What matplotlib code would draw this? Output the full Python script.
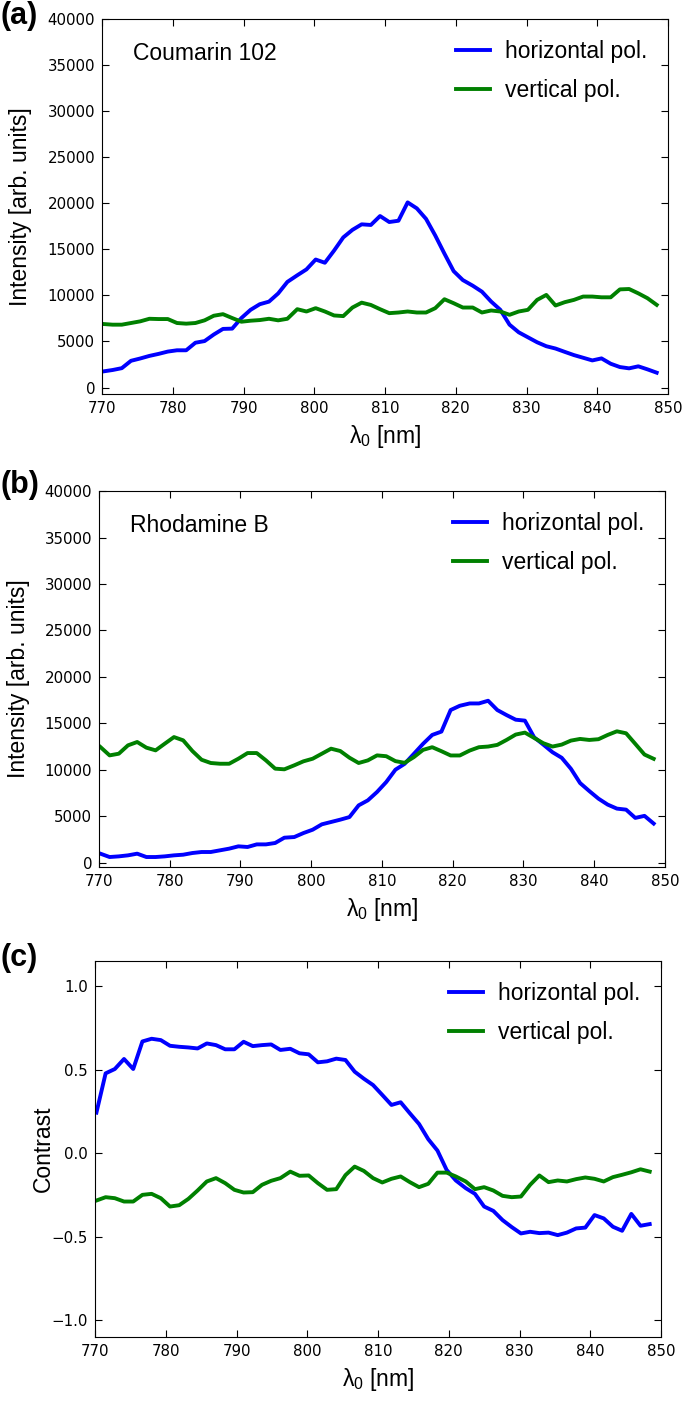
import matplotlib
matplotlib.use("Agg")
import matplotlib.pyplot as plt

# wavelength grid of the spectrometer (nm)
wavelength = [770.2, 771.5, 772.8, 774.1, 775.4, 776.7, 778.0, 779.3, 780.6, 781.9,
              783.2, 784.5, 785.8, 787.1, 788.4, 789.7, 791.0, 792.3, 793.6, 794.9,
              796.2, 797.6, 798.9, 800.2, 801.5, 802.8, 804.1, 805.4, 806.7, 808.0,
              809.3, 810.6, 811.9, 813.2, 814.5, 815.8, 817.1, 818.4, 819.7, 821.0,
              822.4, 823.7, 825.0, 826.3, 827.6, 828.9, 830.2, 831.5, 832.8, 834.1,
              835.4, 836.7, 838.0, 839.3, 840.6, 841.9, 843.2, 844.5, 845.8, 847.1,
              848.4]

# (a) Coumarin 102
coumarin_h = [1750, 1900, 2100, 2900, 3150, 3430, 3650, 3900, 4040, 4040,
              4860, 5040, 5750, 6360, 6390, 7540, 8430, 9040, 9320, 10210,
              11460, 12180, 12820, 13890, 13540, 14860, 16290, 17110, 17710, 17640,
              18610, 17960, 18100, 20090, 19440, 18300, 16500, 14530, 12630, 11660,
              11050, 10400, 9330, 8430, 6820, 5990, 5450, 4910, 4480, 4230,
              3870, 3520, 3230, 2940, 3160, 2580, 2220, 2080, 2300, 1970,
              1610]
coumarin_v = [6890, 6820, 6820, 7000, 7180, 7460, 7430, 7430, 7000, 6930,
              7000, 7290, 7790, 7960, 7540, 7140, 7250, 7320, 7460, 7290,
              7460, 8500, 8250, 8610, 8250, 7820, 7750, 8680, 9210, 8960,
              8500, 8070, 8140, 8250, 8140, 8140, 8610, 9580, 9150, 8680,
              8680, 8140, 8360, 8250, 7890, 8250, 8430, 9510, 10050, 8900,
              9260, 9510, 9870, 9870, 9790, 9790, 10650, 10690, 10220, 9690,
              8970]

# (b) Rhodamine B
rhodamine_h = [970, 610, 680, 790, 970, 610, 610, 680, 790, 860,
               1040, 1150, 1150, 1330, 1510, 1760, 1690, 1970, 1970, 2120,
               2690, 2760, 3190, 3550, 4130, 4380, 4630, 4910, 6170, 6710,
               7610, 8680, 10010, 10640, 11710, 12790, 13750, 14110, 16430, 16890,
               17140, 17140, 17430, 16430, 15890, 15390, 15290, 13500, 12710, 11890,
               11290, 10110, 8570, 7710, 6890, 6250, 5820, 5710, 4820, 5040,
               4210]
rhodamine_v = [12450, 11550, 11730, 12630, 12990, 12380, 12090, 12810, 13520, 13170,
               12020, 11080, 10730, 10650, 10650, 11190, 11800, 11800, 11010, 10120,
               10050, 10480, 10910, 11190, 11730, 12270, 12020, 11300, 10730, 11010,
               11550, 11460, 10930, 10750, 11360, 12140, 12430, 12000, 11540, 11540,
               12070, 12430, 12500, 12680, 13210, 13790, 14000, 13430, 12860, 12500,
               12710, 13140, 13320, 13210, 13290, 13750, 14140, 13930, 12790, 11640,
               11180]

# (c) contrast
contrast_h = [0.243, 0.478, 0.504, 0.564, 0.504, 0.669, 0.685, 0.677, 0.643, 0.637,
              0.633, 0.627, 0.657, 0.647, 0.622, 0.622, 0.667, 0.641, 0.647, 0.651,
              0.618, 0.625, 0.598, 0.592, 0.544, 0.550, 0.566, 0.558, 0.488, 0.446,
              0.408, 0.349, 0.289, 0.305, 0.239, 0.175, 0.084, 0.016, -0.100, -0.163,
              -0.209, -0.243, -0.319, -0.345, -0.400, -0.442, -0.480, -0.470, -0.478, -0.475,
              -0.490, -0.475, -0.450, -0.445, -0.370, -0.390, -0.440, -0.464, -0.363, -0.434,
              -0.424]
contrast_v = [-0.283, -0.263, -0.269, -0.289, -0.289, -0.249, -0.243, -0.269, -0.319, -0.311,
              -0.273, -0.223, -0.169, -0.149, -0.179, -0.219, -0.235, -0.233, -0.189, -0.165,
              -0.149, -0.110, -0.135, -0.133, -0.179, -0.219, -0.215, -0.131, -0.080, -0.106,
              -0.149, -0.175, -0.153, -0.139, -0.173, -0.203, -0.183, -0.116, -0.116, -0.139,
              -0.169, -0.215, -0.203, -0.223, -0.255, -0.263, -0.259, -0.189, -0.133, -0.173,
              -0.163, -0.169, -0.155, -0.145, -0.153, -0.169, -0.143, -0.129, -0.114, -0.096,
              -0.110]

label_font = "Liberation Sans"
plt.rcParams["mathtext.fontset"] = "custom"
plt.rcParams["mathtext.rm"] = label_font
plt.rcParams["mathtext.it"] = label_font + ":italic"

fig = plt.figure(figsize=(6.85, 14.03), dpi=100)


def panel(rect, yh, yv, ylim, yticks, ylabel, ylabel_x, tag, tag_y, note=None):
    ax = fig.add_axes(rect)
    ax.plot(wavelength, yh, color="b", lw=2.8, label="horizontal pol.")
    ax.plot(wavelength, yv, color="g", lw=2.8, label="vertical pol.")
    ax.set_xlim(770, 850)
    ax.set_ylim(*ylim)
    ax.set_yticks(yticks)
    ax.tick_params(direction="in", top=True, right=True, length=5, width=0.8,
                   labelsize=10.8, pad=5)
    ax.set_xlabel("λ$_0$ [nm]", fontsize=16.5, family=label_font, labelpad=5)
    ax.set_ylabel(ylabel, fontsize=16.5, family=label_font)
    ax.yaxis.set_label_coords(ylabel_x, 0.5)
    ax.legend(loc="upper right", frameon=False, handlelength=1.5, handletextpad=0.65,
              labelspacing=0.72, prop={"family": label_font, "size": 16.5})
    if note:
        ax.text(0.054, 0.909, note, transform=ax.transAxes, fontsize=16.5,
                family=label_font, va="center", ha="left")
    fig.text(0.0, tag_y, tag, fontsize=22, fontweight="bold", family=label_font,
             va="top", ha="left")
    return ax


panel([0.1489, 0.7192, 0.8263, 0.2673], coumarin_h, coumarin_v, (-700, 40000),
      range(0, 40001, 5000), "Intensity [arb. units]", -0.124, "(a)", 0.999,
      note="Coumarin 102")
panel([0.1445, 0.3820, 0.8263, 0.2680], rhodamine_h, rhodamine_v, (-470, 40000),
      range(0, 40001, 5000), "Intensity [arb. units]", -0.122, "(b)", 0.665,
      note="Rhodamine B")
panel([0.1387, 0.0470, 0.8263, 0.2680], contrast_h, contrast_v, (-1.1, 1.15),
      [-1.0, -0.5, 0.0, 0.5, 1.0], "Contrast", -0.071, "(c)", 0.328)

fig.savefig("out.png", dpi=100)
